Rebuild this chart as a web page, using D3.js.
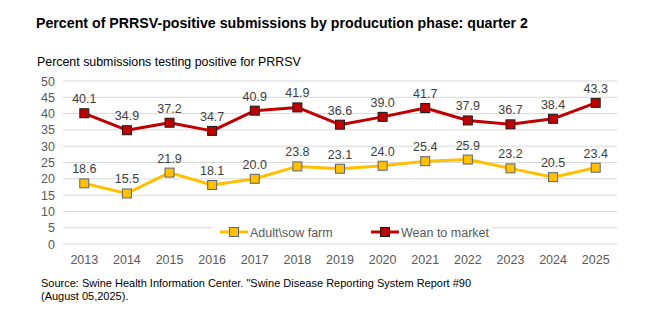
<!DOCTYPE html>
<html>
<head>
<meta charset="utf-8">
<script src="https://cdn.jsdelivr.net/npm/d3@7"></script>
<style>
  body { margin: 0; background: #fff; }
  svg { font-family: "Liberation Sans", Arial, sans-serif; }
</style>
</head>
<body>
<svg id="chart" width="646" height="327"></svg>
<script>
const years = ['2013', '2014', '2015', '2016', '2017', '2018', '2019', '2020', '2021', '2022', '2023', '2024', '2025'];
const sowFarm = [18.6, 15.5, 21.9, 18.1, 20.0, 23.8, 23.1, 24.0, 25.4, 25.9, 23.2, 20.5, 23.4];
const weanMarket = [40.1, 34.9, 37.2, 34.7, 40.9, 41.9, 36.6, 39.0, 41.7, 37.9, 36.7, 38.4, 43.3];
const yTicks = [0, 5, 10, 15, 20, 25, 30, 35, 40, 45, 50];

const series = [
  { name: 'Adult\\sow farm', values: sowFarm, color: '#FFC000', stroke: '#5A6478' },
  { name: 'Wean to market', values: weanMarket, color: '#C00000', stroke: '#1a1a1a' }
];

const svg = d3.select('#chart');

const x = d3.scaleBand().domain(years).range([63, 617]);
const y = d3.scaleLinear().domain([0, 50]).range([244, 81]);

svg.append('text')
  .attr('x', 36).attr('y', 28)
  .attr('font-size', 14.2).attr('font-weight', 'bold').attr('fill', '#000')
  .text('Percent of PRRSV-positive submissions by producution phase: quarter 2');

svg.append('text')
  .attr('x', 37).attr('y', 66)
  .attr('font-size', 12.4).attr('fill', '#000')
  .text('Percent submissions testing positive for PRRSV');

// gridlines
svg.append('g')
  .selectAll('line')
  .data(yTicks)
  .join('line')
  .attr('x1', 63).attr('x2', 617)
  .attr('y1', (d) => y(d)).attr('y2', (d) => y(d))
  .attr('stroke', '#d9d9d9').attr('stroke-width', 1);

// y labels
svg.append('g')
  .selectAll('text')
  .data(yTicks)
  .join('text')
  .attr('x', 55).attr('y', (d) => y(d) + 4.5)
  .attr('text-anchor', 'end')
  .attr('font-size', 12.5).attr('fill', '#595959')
  .text((d) => d);

// x labels
svg.append('g')
  .selectAll('text')
  .data(years)
  .join('text')
  .attr('x', (d) => x(d) + x.bandwidth() / 2).attr('y', 263.5)
  .attr('text-anchor', 'middle')
  .attr('font-size', 12.5).attr('fill', '#595959')
  .text((d) => d);

const cx = (i) => x(years[i]) + x.bandwidth() / 2;
const line = d3.line().x((d, i) => cx(i)).y((d) => y(d));

// legend background hides the 5 gridline
svg.append('rect')
  .attr('x', 212).attr('y', 222).attr('width', 280).attr('height', 18)
  .attr('fill', '#fff');

for (const s of series) {
  svg.append('path')
    .datum(s.values)
    .attr('d', line)
    .attr('fill', 'none')
    .attr('stroke', s.color).attr('stroke-width', 3)
    .attr('stroke-linejoin', 'round');

  svg.append('g')
    .selectAll('rect')
    .data(s.values)
    .join('rect')
    .attr('x', (d, i) => cx(i) - 4.5).attr('y', (d) => y(d) - 4.5)
    .attr('width', 9).attr('height', 9)
    .attr('fill', s.color).attr('stroke', s.stroke).attr('stroke-width', 1);

  svg.append('g')
    .selectAll('text')
    .data(s.values)
    .join('text')
    .attr('x', (d, i) => cx(i)).attr('y', (d) => y(d) - 10)
    .attr('text-anchor', 'middle')
    .attr('font-size', 12.5).attr('fill', '#404040')
    .text((d) => d.toFixed(1));
}

// legend
const legend = svg.append('g')
  .selectAll('g')
  .data(series)
  .join('g')
  .attr('transform', (d, i) => `translate(${220 + i * 151},232)`);

legend.append('line')
  .attr('x1', 0).attr('x2', 28)
  .attr('stroke', (d) => d.color).attr('stroke-width', 3);
legend.append('rect')
  .attr('x', 9.5).attr('y', -4.5).attr('width', 9).attr('height', 9)
  .attr('fill', (d) => d.color).attr('stroke', (d) => d.stroke);
legend.append('text')
  .attr('x', 30).attr('y', 4.5)
  .attr('font-size', 12.5).attr('fill', '#595959')
  .text((d) => d.name);

svg.append('text')
  .attr('x', 41).attr('y', 287)
  .attr('font-size', 11).attr('fill', '#000')
  .text('Source: Swine Health Information Center. "Swine Disease Reporting System Report #90');
svg.append('text')
  .attr('x', 41).attr('y', 300)
  .attr('font-size', 11).attr('fill', '#000')
  .text('(August 05,2025).');
</script>
</body>
</html>
